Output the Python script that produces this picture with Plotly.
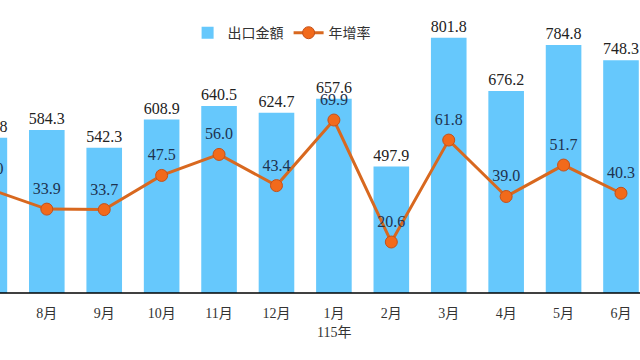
import plotly.graph_objects as go

months = ["7月", "8月", "9月", "10月", "11月", "12月", "1月", "2月", "3月", "4月", "5月", "6月"]
export_values = [565.8, 584.3, 542.3, 608.9, 640.5, 624.7, 657.6, 497.9, 801.8, 676.2, 784.8, 748.3]
growth_rates = [42.0, 33.9, 33.7, 47.5, 56.0, 43.4, 69.9, 20.6, 61.8, 39.0, 51.7, 40.3]
year_label = "115年"
year_month = "1月"

serif = "Liberation Serif"

fig = go.Figure()
fig.add_trace(go.Bar(
    x=months, y=export_values, name="出口金額",
    marker=dict(color="#66C8FC", line=dict(width=0)),
    text=[f"{v:.1f}" for v in export_values], textposition="outside",
    constraintext="none",
    textfont=dict(family=serif, size=16, color="#222222"),
    cliponaxis=True, yaxis="y",
))
fig.add_trace(go.Scatter(
    x=months, y=growth_rates, name="年增率", mode="lines+markers",
    line=dict(color="#D8681F", width=3),
    marker=dict(size=12, color="#F26A1B", line=dict(color="#C4511A", width=1)),
    cliponaxis=True, yaxis="y2",
))
fig.add_trace(go.Scatter(
    x=months, y=growth_rates, mode="text", showlegend=False,
    text=[f"{v:.1f}" for v in growth_rates], textposition="middle center",
    textfont=dict(family=serif, size=16, color="#1E3350"),
    cliponaxis=True, yaxis="y3",
))

fig.update_layout(
    width=640, height=360,
    margin=dict(l=0, r=0, t=0, b=67),
    paper_bgcolor="white", plot_bgcolor="white",
    bargap=0.38,
    showlegend=True,
    legend=dict(orientation="h", x=0.44, xanchor="center", y=0.887, yanchor="middle",
                font=dict(family="Noto Sans CJK TC", size=14, color="#333333"),
                bgcolor="rgba(0,0,0,0)", itemwidth=30),
    xaxis=dict(type="category", range=[0.185, 11.331], showgrid=False, zeroline=False,
               showline=False, ticks="outside", ticklen=7, tickcolor="rgba(0,0,0,0)",
               tickfont=dict(family="Liberation Serif, Noto Sans CJK TC", size=14, color="#333333")),
    yaxis=dict(range=[200, 890.6], visible=False, showgrid=False),
    yaxis2=dict(range=[0, 118.4], overlaying="y", side="right", visible=False, showgrid=False),
    # label axis: same scale as yaxis2, shifted so labels sit above the markers
    yaxis3=dict(range=[-7.7, 110.7], overlaying="y", side="right", visible=False, showgrid=False),
    shapes=[dict(type="line", xref="paper", yref="paper", x0=0, x1=1, y0=0, y1=0,
                 line=dict(color="black", width=1.5))],
    annotations=[dict(x=year_month, y=0, xref="x", yref="paper", yshift=-39, yanchor="middle",
                      text=year_label, showarrow=False,
                      font=dict(family="Liberation Serif, Noto Sans CJK TC", size=14, color="#333333"))],
)

fig.write_html("out.html")
